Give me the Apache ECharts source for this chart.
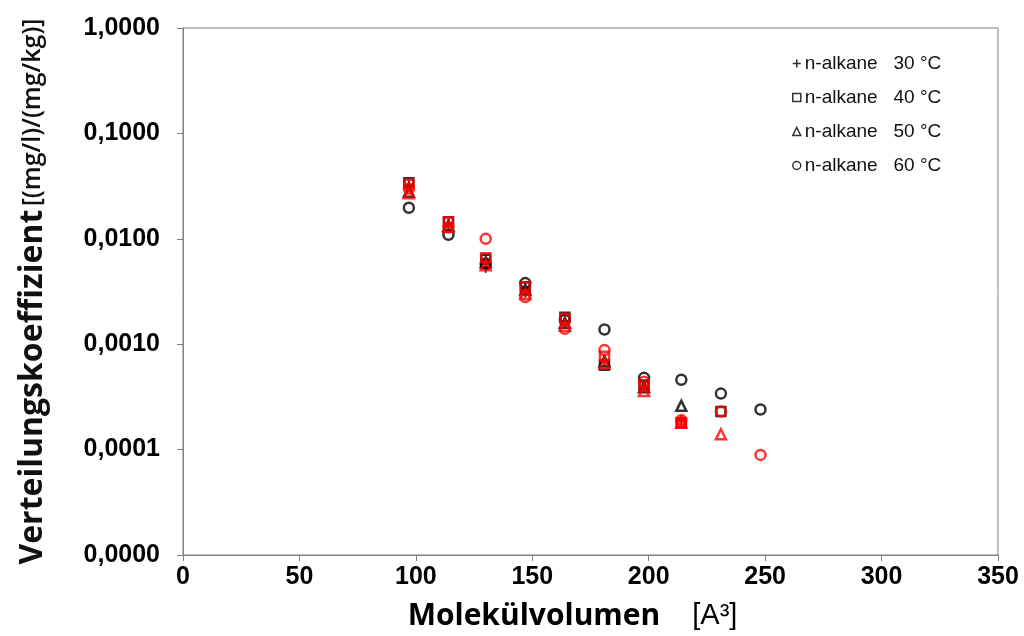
<!DOCTYPE html>
<html>
<head>
<meta charset="utf-8">
<script src="https://cdn.jsdelivr.net/npm/echarts@6/dist/echarts.min.js"></script>
<style>html,body{margin:0;padding:0;background:#fff}#c{width:1024px;height:636px}</style>
</head>
<body>
<div id="c"></div>
<script>
// Molecular volume columns (A^3)
const volumes = [97, 114, 130, 147, 164, 181, 198, 214, 231, 248];
const xTicks = [0, 50, 100, 150, 200, 250, 300, 350];
const yTicks = ['1,0000', '0,1000', '0,0100', '0,0010', '0,0001', '0,0000'];

// black series (legend)
const k30 = [0.032, 0.0139, 0.0053, 0.0031, 0.0016, 0.00071, 0.00039, 0.00019];
const k40 = [0.034, 0.0145, 0.0064, 0.0035, 0.0018, 0.00063, 0.00041, 0.00018, 0.00023];
const k50 = [0.028, 0.0133, 0.0060, 0.0033, 0.0016, 0.00069, 0.00039, 0.00026];
const k60 = [0.0197, 0.0109, 0.0058, 0.0038, 0.0017, 0.00138, 0.00048, 0.00046, 0.00034, 0.00024];

// red series
const r30 = [0.031, 0.0137, 0.0060, 0.0031, 0.0016, 0.00071, 0.00039, 0.00019];
const r40 = [0.033, 0.0145, 0.0066, 0.0035, 0.00175, 0.00077, 0.00040, 0.00018];
const r50 = [0.027, 0.0130, 0.0056, 0.0030, 0.0015, 0.00066, 0.00036, 0.00018, 0.00014];
const r60 = [0.030, 0.0128, 0.0100, 0.0028, 0.0014, 0.00088, 0.00044, 0.00019, 0.00023, 0.000089];

const names = ['n-alkane   30 °C', 'n-alkane   40 °C', 'n-alkane   50 °C', 'n-alkane   60 °C'];

const plus = 'path://M4,0H6V4H10V6H6V10H4V6H0V4H4Z';
const pair = arr => arr.map((v, i) => [volumes[i], v]);

function mk(name, data, symbol, color, size, filled) {
  return {
    type: 'scatter', name: name, data: pair(data), symbol: symbol, symbolSize: size,
    itemStyle: filled ? {color: color} : {color: 'rgba(255,255,255,0)', borderColor: color, borderWidth: 2.5},
    emphasis: {disabled: true}
  };
}

const series = [
  mk(names[0], k30, plus, '#000', 10, true),
  mk(names[1], k40, 'rect', '#000', 9, false),
  mk(names[2], k50, 'triangle', '#000', 10, false),
  mk(names[3], k60, 'circle', '#000', 10, false),
  mk('r30', r30, plus, '#ff0000', 10, true),
  mk('r40', r40, 'rect', '#ff0000', 9, false),
  mk('r50', r50, 'triangle', '#ff0000', 10, false),
  mk('r60', r60, 'circle', '#ff0000', 10, false)
];

const chart = echarts.init(document.getElementById('c'));
chart.setOption({
  animation: false,
  backgroundColor: '#fff',
  grid: {left: 183, right: 26, top: 28, bottom: 80, show: true, borderColor: '#808080', borderWidth: 1},
  legend: {
    data: names.map(n => ({name: n, itemStyle: {borderWidth: 1.5}})),
    orient: 'vertical', left: 787, top: 49,
    itemWidth: 8, itemHeight: 8, itemGap: 15, itemStyle: {borderWidth: 1.5},
    textStyle: {fontFamily: 'Liberation Sans, Arial', fontSize: 19, color: '#111', lineHeight: 19, padding: [0, 0, 0, -1]},
    selectedMode: false
  },
  xAxis: {
    type: 'value', min: 0, max: 350, interval: 50,
    axisLine: {lineStyle: {color: '#808080'}},
    axisTick: {show: true, length: 6, lineStyle: {color: '#808080'}},
    splitLine: {show: false},
    axisLabel: {
      margin: 10, fontFamily: 'Liberation Sans Narrow, Liberation Sans, Arial', fontWeight: 'bold', fontSize: 25, color: '#000',
      formatter: v => xTicks.indexOf(v) >= 0 ? String(v) : ''
    },
    name: '{a|Molekülvolumen}{b|[A³]}',
    nameLocation: 'middle', nameGap: 46,
    nameTextStyle: {
      padding: [0, 36, 0, 0],
      rich: {
        a: {fontFamily: 'Open Sans, Noto Sans', fontWeight: 'bold', fontSize: 30, color: '#000'},
        b: {fontFamily: 'Liberation Sans Narrow, Liberation Sans', fontWeight: 'normal', fontSize: 29, color: '#000', padding: [0, 0, 0, 32]}
      }
    }
  },
  yAxis: {
    type: 'log', logBase: 10, min: 0.00001, max: 1,
    axisLine: {show: true, lineStyle: {color: '#808080'}},
    axisTick: {show: true, length: 6, lineStyle: {color: '#808080'}},
    minorTick: {show: false},
    splitLine: {show: false},
    axisLabel: {
      margin: 23, fontFamily: 'Liberation Sans, Arial', fontWeight: 'bold', fontSize: 25, color: '#000',
      formatter: v => {
        const i = Math.round(-Math.log10(v));
        return yTicks[i] !== undefined ? yTicks[i] : '';
      }
    },
    name: '{a|Verteilungskoeffizient} {b|[(mg/l)/(mg/kg)]}',
    nameLocation: 'middle', nameRotate: 90, nameGap: 134,
    nameTextStyle: {
      rich: {
        a: {fontFamily: 'Open Sans, Noto Sans', fontWeight: 'bold', fontSize: 32, color: '#111'},
        b: {fontFamily: 'Open Sans, Noto Sans', fontWeight: 600, fontSize: 25, color: '#111'}
      }
    }
  },
  series: series
});
</script>
</body>
</html>
